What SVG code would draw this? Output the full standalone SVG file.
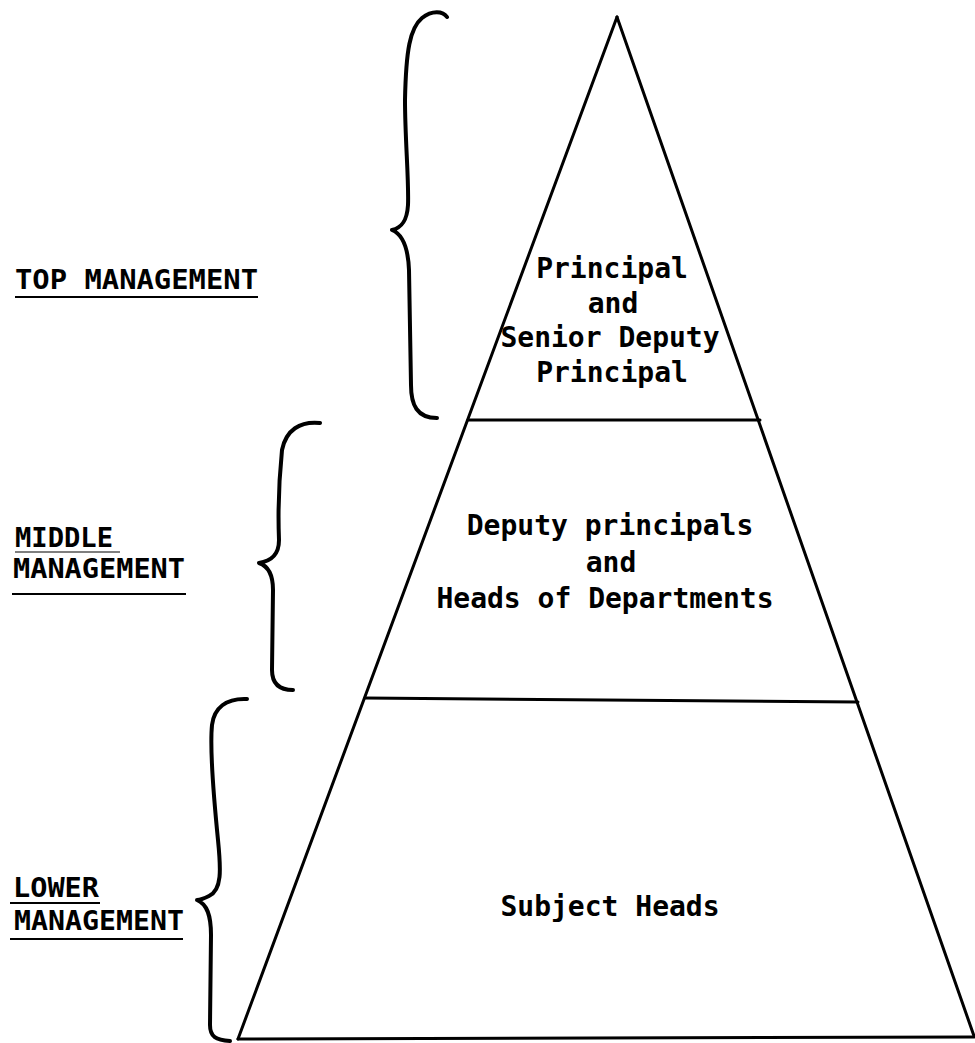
<svg xmlns="http://www.w3.org/2000/svg" width="975" height="1043" viewBox="0 0 975 1043">
<style>
.ln{stroke:#000;stroke-width:3;fill:none;stroke-linecap:round}
.br{stroke:#000;stroke-width:4;fill:none;stroke-linecap:round;stroke-linejoin:round}
.ul{stroke:#000;stroke-width:2.2;fill:none}
.t{font-family:"DejaVu Sans Mono","Liberation Mono",monospace;font-weight:bold;fill:#000}
.in{font-size:28px;text-anchor:middle}
.lb{font-size:26px}
</style>
<rect width="975" height="1043" fill="#fff"/>
<g id="pyramid">
<line class="ln" x1="617" y1="17" x2="238" y2="1039"/>
<line class="ln" x1="617" y1="17" x2="974" y2="1036"/>
<line class="ln" x1="238" y1="1039" x2="974" y2="1037"/>
</g>
<g id="tier-top">
<line class="ln" x1="468" y1="420" x2="760" y2="420"/>
<text class="t in" x="612" y="278">Principal</text>
<text class="t in" x="613" y="313">and</text>
<text class="t in" x="610" y="347">Senior Deputy</text>
<text class="t in" x="612" y="382">Principal</text>
</g>
<g id="tier-middle">
<line class="ln" x1="365" y1="698" x2="858" y2="702"/>
<text class="t in" x="610" y="535">Deputy principals</text>
<text class="t in" x="611" y="572">and</text>
<text class="t in" x="605" y="608">Heads of Departments</text>
</g>
<g id="tier-lower">
<text class="t in" x="610" y="916">Subject Heads</text>
</g>
<g id="label-top">
<text class="t lb" x="15" y="289" textLength="243" lengthAdjust="spacingAndGlyphs">TOP MANAGEMENT</text>
<line class="ul" x1="15" y1="297" x2="258" y2="297"/>
</g>
<g id="label-middle">
<text class="t lb" x="15" y="547" textLength="98" lengthAdjust="spacingAndGlyphs">MIDDLE</text>
<line class="ul" x1="15" y1="552" x2="120" y2="552" stroke-opacity="0.5"/>
<text class="t lb" x="13" y="578" textLength="172" lengthAdjust="spacingAndGlyphs">MANAGEMENT</text>
<line class="ul" x1="12" y1="594" x2="186" y2="594"/>
</g>
<g id="label-lower">
<text class="t lb" x="13" y="897" textLength="86" lengthAdjust="spacingAndGlyphs">LOWER</text>
<line class="ul" x1="10" y1="903" x2="100" y2="903"/>
<text class="t lb" x="14" y="930" textLength="170" lengthAdjust="spacingAndGlyphs">MANAGEMENT</text>
<line class="ul" x1="10" y1="939" x2="183" y2="939"/>
</g>
<g id="connectors">
<path class="br" d="M447,17 C443,11 432,10 422,18 C410,28 406,50 405,100 C405,140 409,180 408,205 C407,222 401,228 392,230 C402,234 408,245 409,270 L411,385 C411,405 417,418 437,418"/>
<path class="br" d="M320,423 C300,421 286,430 282,450 C279,480 278,515 279,540 C279,555 271,561 259,563 C268,566 273,574 273,590 L272,670 C272,684 280,690 293,690"/>
<path class="br" d="M247,699 C226,698 214,708 212,725 C210,745 214,800 218,840 C221,870 222,890 209,896 C203,899 199,900 197,900 C207,904 211,915 211,935 L210,1025 C210,1037 216,1040 230,1041"/>
</g>
</svg>
